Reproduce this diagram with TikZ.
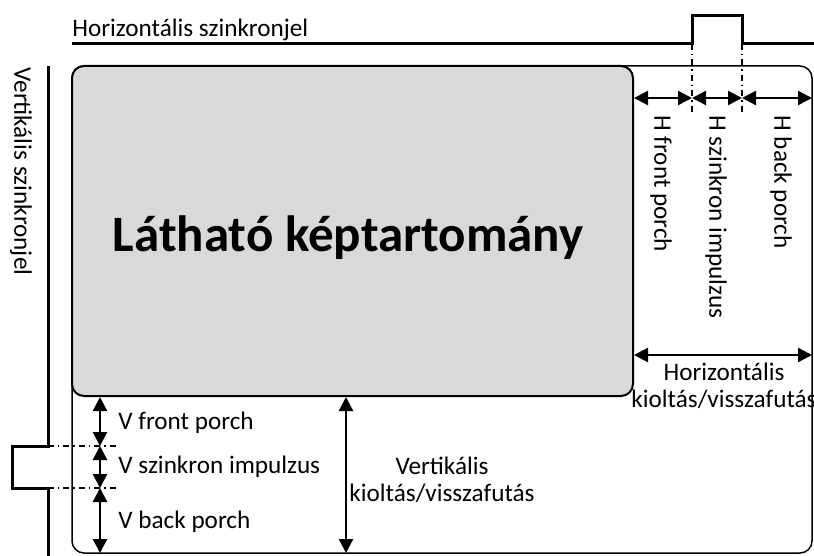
\documentclass[tikz,border=0pt]{standalone}
\usepackage{fontspec}
\setmainfont{Carlito}
\usetikzlibrary{arrows.meta}

\begin{document}
\begin{tikzpicture}[x=0.5pt, y=-0.5pt,
  sig/.style={line width=1.5pt},
  dim/.style={line width=1.2pt, {Triangle[length=7pt,width=7pt]}-{Triangle[length=7pt,width=7pt]}},
  guide/.style={line width=0.7pt, dash pattern=on 3pt off 2pt on 0.7pt off 2pt},
  lbl/.style={font=\fontsize{12.6}{13.5}\selectfont, inner sep=0pt},
  vlbl/.style={lbl, rotate=-90, anchor=west}]
\useasboundingbox (0,0) rectangle (814,556);

% frame and visible area
\draw[line width=0.75pt, rounded corners=6pt] (72,66) rectangle (812,553);
\node[draw, line width=1pt, fill=gray!30, rounded corners=6pt,
      minimum width=280.5pt, minimum height=165pt, inner sep=0pt] (vis) at (352.5,231) {};
\node[font=\fontsize{25.5}{28}\selectfont\bfseries] (title) at (348,238) {Látható képtartomány};

% sync signals
\draw[sig] (72,44) -| (692,16) -| (742,44) -- (814,44);
\draw[sig] (48,66) |- (12,446) |- (48,488) -- (48,556);
\node[lbl, anchor=base west] (hsync) at (72,37) {Horizontális szinkronjel};
\node[vlbl] (vsync) at (21,67) {Vertikális szinkronjel};

% guides
\draw[guide] (692,44) -- (692,115);
\draw[guide] (742,44) -- (742,115);
\draw[guide] (48,446) -- (118,446);
\draw[guide] (48,488) -- (118,488);

% horizontal timing
\coordinate (h0) at (vis.east |- 0,98);
\coordinate (h1) at (692,98);
\coordinate (h2) at (742,98);
\coordinate (h3) at (812,98);
\draw[dim] (h0) -- (h1);
\draw[dim] (h1) -- (h2);
\draw[dim] (h2) -- (h3);
\node[vlbl] (hfp) at (661,115) {H front porch};
\node[vlbl] (hsi) at (716,115) {H szinkron impulzus};
\node[vlbl] (hbp) at (781,115) {H back porch};

\coordinate (hb0) at (vis.east |- 0,355);
\coordinate (hb1) at (812,355);
\draw[dim] (hb0) -- (hb1);
\node[lbl, align=center] (hblank) at (724,386) {Horizontális\\kioltás/visszafutás};

% vertical timing
\coordinate (v0) at (vis.south -| 100,0);
\coordinate (v1) at (100,446);
\coordinate (v2) at (100,488);
\coordinate (v3) at (100,553);
\draw[dim] (v0) -- (v1);
\draw[dim] (v1) -- (v2);
\draw[dim] (v2) -- (v3);
\node[lbl, anchor=west] (vfp) at (118,423) {V front porch};
\node[lbl, anchor=west] (vsi) at (118,467) {V szinkron impulzus};
\node[lbl, anchor=west] (vbp) at (118,522) {V back porch};

\coordinate (vb0) at (vis.south -| 346,0);
\coordinate (vb1) at (346,553);
\draw[dim] (vb0) -- (vb1);
\node[lbl, align=center] (vblank) at (442,480) {Vertikális\\kioltás/visszafutás};
\end{tikzpicture}
\end{document}
